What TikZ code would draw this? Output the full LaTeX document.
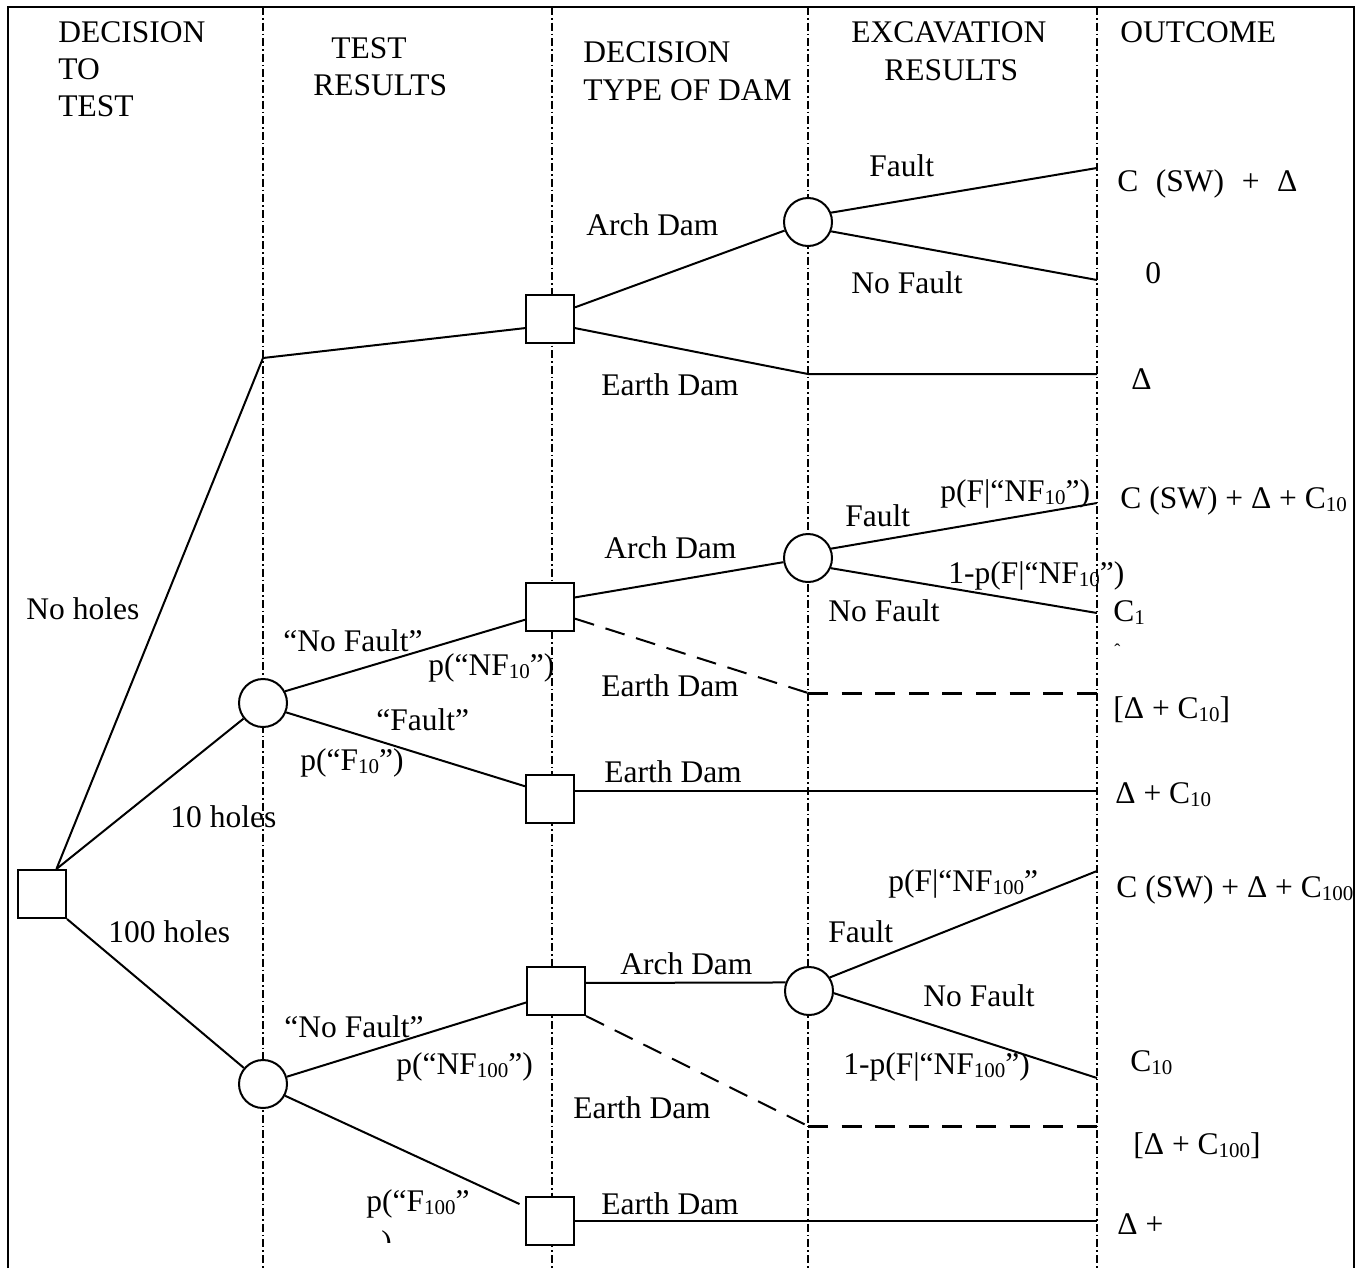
\documentclass[tikz,border=0pt]{standalone}
\usepackage{fontspec}
\setmainfont{Liberation Serif}
\newcommand\sbs[1]{\raisebox{-0.12em}{\fontsize{10.5}{12}\selectfont #1}}
\begin{document}
\begin{tikzpicture}[x=0.5pt,y=-0.5pt,
  lbl/.style={inner sep=0pt, anchor=base west, font=\fontsize{15.75}{18}\selectfont},
  decbox/.style={draw, line width=1pt, fill=white, minimum size=24pt, inner sep=0pt},
  chance/.style={draw, circle, line width=1pt, fill=white, minimum size=24pt, inner sep=0pt},
  branch/.style={line width=1pt},
  dbranch/.style={line width=1pt, dash pattern=on 10pt off 6pt},
  dlevel/.style={line width=1.5pt, dash pattern=on 10pt off 6.8pt},
  divider/.style={line width=0.6pt, dash pattern=on 4pt off 1.5pt on 0.8pt off 1.5pt},
  frame/.style={line width=1.3pt}]
\useasboundingbox (0,0) rectangle (1363,1268);

% column dividers
\draw[divider] (263,7) -- (263,1268);
\draw[divider] (552,7) -- (552,1268);
\draw[divider] (808,7) -- (808,1268);
\draw[divider] (1097,7) -- (1097,1268);

% outer frame (open at the bottom)
\draw[frame] (8,1268) -- (8,7) -- (1354,7) -- (1354,1268);

% column headings
\node[lbl] (hd1a) at (58,43) {DECISION};
\node[lbl] (hd1b) at (58,80) {TO};
\node[lbl] (hd1c) at (58,117) {TEST};
\node[lbl] (hd2a) at (331,59) {TEST};
\node[lbl] (hd2b) at (313,96) {RESULTS};
\node[lbl] (hd3a) at (583,63) {DECISION};
\node[lbl] (hd3b) at (583,101) {TYPE OF DAM};
\node[lbl] (hd4a) at (851,43) {EXCAVATION};
\node[lbl] (hd4b) at (884,81) {RESULTS};
\node[lbl] (hd5) at (1120,43) {OUTCOME};

% decision and chance nodes
\node[decbox] (root) at (42,894) {};
\node[chance] (c10) at (263,703) {};
\node[chance] (c100) at (263,1084) {};
\node[decbox] (sqA) at (550,319) {};
\node[chance] (cA) at (808,222) {};
\node[decbox] (sqB) at (550,607) {};
\node[chance] (cB) at (808,558) {};
\node[decbox] (sqC) at (550,799) {};
\node[decbox, minimum width=29pt] (sqD) at (556,991) {};
\node[chance] (cD) at (809,991) {};
\node[decbox] (sqE) at (550,1221) {};

% bends and branch ends
\coordinate (jA) at (263,358);
\coordinate (oA1) at (1097,168);
\coordinate (oA2) at (1097,280);
\coordinate (kA) at (808,374);
\coordinate (oA3) at (1097,374);
\coordinate (oB1) at (1097,503);
\coordinate (oB2) at (1097,613);
\coordinate (kB) at (808,693);
\coordinate (oB3) at (1097,693);
\coordinate (oC) at (1097,791);
\coordinate (oD1) at (1097,871);
\coordinate (oD2) at (1097,1078);
\coordinate (kD) at (808,1126);
\coordinate (oD3) at (1097,1126);
\coordinate (oE) at (1097,1222);

% no holes
\draw[branch] (root.60) -- (jA) -- (sqA.-160);
\draw[branch] (sqA.25) -- (cA);
\draw[branch] (cA.22) -- (oA1);
\draw[branch] (cA.-22) -- (oA2);
\draw[branch] (sqA.-20) -- (kA) -- (oA3);

% 10 holes
\draw[branch] (root.60) -- (c10);
\draw[branch] (c10.28) -- (sqB.-153);
\draw[branch] (c10.-22) -- (sqC.153);
\draw[branch] (sqB.21) -- (cB);
\draw[branch] (cB.22) -- (oB1);
\draw[branch] (cB.-24) -- (oB2);
\draw[dbranch] (sqB.-25) -- (kB);
\draw[dlevel] (kB) -- (oB3);
\draw[branch] (sqC.18) -- (sqC.18 -| oC);

% 100 holes
\draw[branch] (root.south east) -- (c100);
\draw[branch] (c100.17) -- (sqD.-159);
\draw[branch] (sqD.15) -- (cD.160.5);
\draw[branch] (cD.33) -- (oD1);
\draw[branch] (cD.-5) -- (oD2);
\draw[dbranch] (sqD.south east) -- (kD);
\draw[dlevel] (kD) -- (oD3);
\draw[branch, shorten >=3pt] (c100.-28) -- (sqE.150);
\draw[branch] (sqE.east) -- (sqE.east -| oE);

% labels: no holes
\node[lbl] (lFa) at (869,176) {Fault};
\node[lbl] (lAa) at (586,235) {Arch Dam};
\node[lbl] (lNa) at (851,293) {No Fault};
\node[lbl] (lEa) at (601,395) {Earth Dam};
\node[lbl] (vA1) at (1117,191) {\makebox[90pt][s]{C (SW) + Δ}};
\node[lbl] (vA2) at (1145,283) {0};
\node[lbl] (vA3) at (1131,389) {Δ};
\node[lbl] (lNo) at (26,619) {No holes};

% labels: 10 holes
\node[lbl] (pB1) at (940,501) {p(F|“NF\sbs{10}”)};
\node[lbl] (lFb) at (845,526) {Fault};
\node[lbl] (vB1) at (1120,508) {C (SW) + Δ + C\sbs{10}};
\node[lbl] (lAb) at (604,558) {Arch Dam};
\node[lbl] (pB2) at (948,583) {1-p(F|“NF\sbs{10}”)};
\node[lbl] (lNb) at (828,621) {No Fault};
\node[lbl] (vB2) at (1113,621) {C\sbs{1}};
\node[lbl, font=\fontsize{9}{9}\selectfont] (vB2x) at (1114,656) {ˆ};
\node[lbl] (lNF10) at (283,651) {“No Fault”};
\node[lbl] (pNF10) at (428,675) {p(“NF\sbs{10}”)};
\node[lbl] (lEb) at (601,696) {Earth Dam};
\node[lbl] (vB3) at (1113,718) {[Δ + C\sbs{10}]};
\node[lbl] (lF10) at (376,730) {“Fault”};
\node[lbl] (pF10) at (300,770) {p(“F\sbs{10}”)};
\node[lbl] (lEc) at (604,782) {Earth Dam};
\node[lbl] (vC) at (1115,803) {Δ + C\sbs{10}};
\node[lbl] (l10) at (170,827) {10 holes};

% labels: 100 holes
\node[lbl] (pD1) at (888,891) {p(F|“NF\sbs{100}”};
\node[lbl] (vD1) at (1116,897) {C (SW) + Δ + C\sbs{100}};
\node[lbl] (lFd) at (828,942) {Fault};
\node[lbl] (l100) at (108,942) {100 holes};
\node[lbl] (lAd) at (620,974) {Arch Dam};
\node[lbl] (lNd) at (923,1006) {No Fault};
\node[lbl] (lNF100) at (284,1037) {“No Fault”};
\node[lbl] (pNF100) at (396,1074) {p(“NF\sbs{100}”)};
\node[lbl] (pD2) at (843,1074) {1-p(F|“NF\sbs{100}”)};
\node[lbl] (vD2) at (1130,1071) {C\sbs{10}};
\node[lbl] (lEd) at (573,1118) {Earth Dam};
\node[lbl] (vD3) at (1133,1154) {[Δ + C\sbs{100}]};
\node[lbl] (pF100) at (366,1211) {p(“F\sbs{100}”};
\begin{scope}
  \clip (370,1226) rectangle (400,1242);
  \node[lbl] (pF100b) at (381,1252) {)};
\end{scope}
\node[lbl] (lEe) at (601,1214) {Earth Dam};
\node[lbl] (vE) at (1117,1234) {Δ +};
\end{tikzpicture}
\end{document}
